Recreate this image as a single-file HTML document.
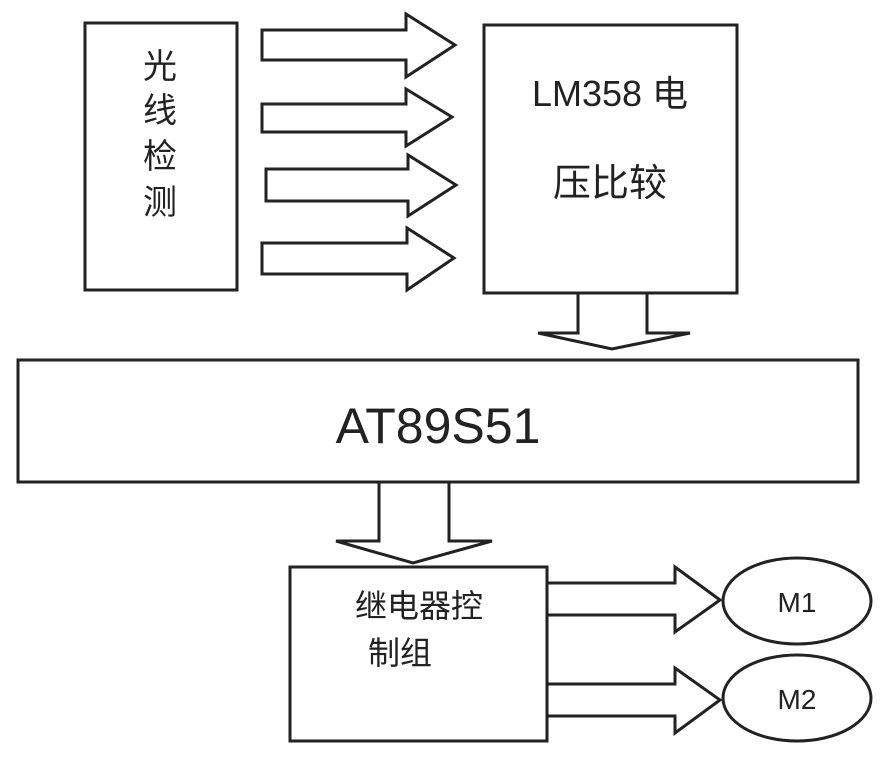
<!DOCTYPE html>
<html><head><meta charset="utf-8"><style>body{margin:0;background:#fff}</style></head><body>
<svg width="891" height="777" viewBox="0 0 891 777" xmlns="http://www.w3.org/2000/svg" style="display:block">
<g fill="#fff" stroke="#222" stroke-width="3" stroke-linejoin="miter">
<rect x="85" y="23" width="152" height="267"/>
<rect x="484" y="25" width="253" height="268"/>
<polygon points="262,30 406,30 406,14 455,45 406,77 406,60 262,60"/>
<polygon points="262,104 406,104 406,89 452,117 406,146 406,132 262,132"/>
<polygon points="266,169 408,169 408,155 456,185 408,216 408,201 266,201"/>
<polygon points="262,243 407,243 407,228 454,258 407,290 407,274 262,274"/>
<polygon points="578,293 578,333 538,333 612,349 690,333 647,333 647,293"/>
<rect x="18" y="360" width="840" height="122"/>
<polygon points="379,482 379,541 336,541 413,563 492,541 449,541 449,482"/>
<rect x="290" y="567" width="257" height="174"/>
<polygon points="547,583 675,583 675,567 720,600 675,632 675,615 547,615"/>
<polygon points="547,684 675,684 675,668 720,700 675,733 675,716 547,716"/>
<ellipse cx="797" cy="601" rx="74" ry="43"/>
<ellipse cx="797" cy="698" rx="74" ry="43"/>
</g>
<g fill="#222" font-family="Liberation Sans, Noto Sans CJK SC, sans-serif" text-anchor="middle">
<text x="160" y="78" font-size="34">光</text>
<text x="160" y="122" font-size="34">线</text>
<text x="160" y="168" font-size="34">检</text>
<text x="160" y="214" font-size="34">测</text>
<text x="610" y="106" font-size="36">LM358 电</text>
<text x="610" y="196" font-size="38">压比较</text>
<text x="438" y="443" font-size="50">AT89S51</text>
<text x="419" y="617" font-size="32">继电器控</text>
<text x="400" y="664" font-size="32">制组</text>
<text x="797" y="612" font-size="28">M1</text>
<text x="797" y="709" font-size="28">M2</text>
</g>
</svg>
</body></html>
